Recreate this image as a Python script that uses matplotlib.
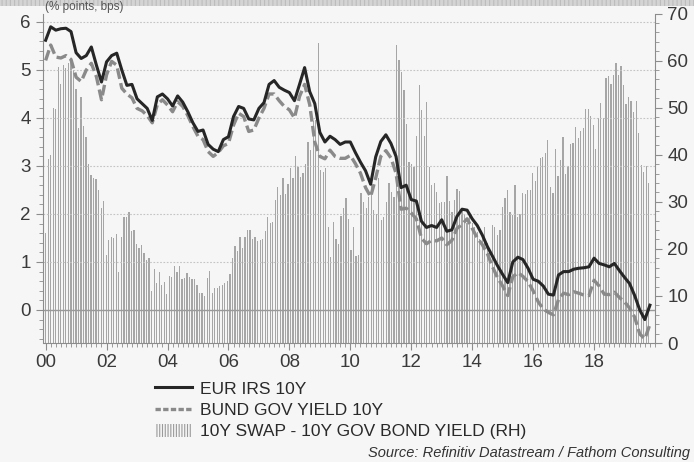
import numpy as np
import matplotlib
matplotlib.use("Agg")
import matplotlib.pyplot as plt
from matplotlib.lines import Line2D
from matplotlib.patches import Patch, Rectangle
from matplotlib.ticker import MultipleLocator, FixedLocator

plt.rcParams['font.family'] = ['Liberation Sans', 'DejaVu Sans']
plt.rcParams['hatch.linewidth'] = 0.8

# ---------------- data ----------------
# EUR IRS 10Y, bi-monthly from Jan 2000 (% points)
irs_10y = [5.62, 5.9, 5.83, 5.86, 5.87, 5.8,
           5.36, 5.24, 5.3, 5.48, 5.1, 4.75,
           5.17, 5.3, 5.35, 5.0, 4.68, 4.7,
           4.4, 4.3, 4.2, 3.95, 4.44, 4.5,
           4.4, 4.25, 4.46, 4.33, 4.13, 3.9,
           3.72, 3.75, 3.45, 3.35, 3.3, 3.55,
           3.61, 4.03, 4.24, 4.2, 3.98, 3.96,
           4.2, 4.32, 4.7, 4.78, 4.64, 4.58,
           4.53, 4.36, 4.7, 5.05, 4.55, 4.3,
           3.7, 3.5, 3.62, 3.55, 3.45, 3.5,
           3.5, 3.28, 3.08, 2.9, 2.62, 3.19,
           3.51, 3.65, 3.47, 3.2, 2.55, 2.6,
           2.3, 2.27, 1.85, 1.72, 1.76, 1.72,
           1.88, 1.64, 1.67, 1.95, 2.1, 2.08,
           1.9, 1.76, 1.56, 1.32, 1.12, 0.92,
           0.74, 0.57, 1.0, 1.1, 1.05, 0.87,
           0.64, 0.6, 0.5, 0.33, 0.31, 0.73,
           0.8, 0.8, 0.85, 0.87, 0.88, 0.9,
           1.08, 0.97, 0.94, 0.9, 0.97, 0.82,
           0.68, 0.55, 0.3, 0.0, -0.2, 0.1]

# BUND GOV YIELD 10Y, bi-monthly from Jan 2000 (% points)
bund_10y = [5.2, 5.52, 5.27, 5.25, 5.3, 5.22,
            4.85, 4.76, 5.0, 5.14, 4.86, 4.38,
            4.9, 5.18, 5.1, 4.62, 4.5, 4.42,
            4.2, 4.15, 4.05, 3.9, 4.28, 4.38,
            4.27, 4.13, 4.34, 4.24, 4.05, 3.82,
            3.62, 3.55, 3.3, 3.2, 3.28, 3.42,
            3.47, 3.85, 4.1, 4.03, 3.72, 3.75,
            4.0, 4.2, 4.5, 4.5, 4.36, 4.24,
            4.17, 4.0, 4.45, 4.7, 4.28, 3.5,
            3.2, 3.15, 3.33, 3.2, 3.16, 3.16,
            3.22, 3.05, 2.85, 2.55, 2.36, 2.75,
            3.2, 3.32, 3.17, 2.85, 2.1, 2.12,
            2.02, 1.9, 1.5, 1.38, 1.45, 1.44,
            1.5, 1.36, 1.45, 1.7, 1.78, 1.9,
            1.7, 1.5, 1.36, 1.17, 0.9, 0.67,
            0.5, 0.3, 0.69, 0.78, 0.7, 0.59,
            0.4, 0.17, 0.02, -0.05, -0.1, 0.22,
            0.35, 0.32, 0.38, 0.35, 0.31, 0.3,
            0.62, 0.5, 0.33, 0.32, 0.37, 0.26,
            0.17, 0.04, -0.15, -0.5, -0.6, -0.3]

# 10Y swap - 10Y gov bond yield, monthly from Jan 2000 (bps, RH)
swap_spread = [23.4, 39, 40, 50, 49.7, 58.7, 55, 59, 58.4, 59.4, 60.2, 58,
               53.9, 45.6, 52.2, 46, 43.8, 38, 35.7, 35, 34.8, 32.5, 28.7, 30.1,
               18.7, 21.9, 22.6, 22.3, 23.1, 15.1, 22.6, 26.8, 26.7, 27.8, 23.8, 24,
               21, 20.1, 20.8, 19.1, 17.6, 18, 11, 15.7, 12.7, 15.1, 12.3,
               13.0, 10.5, 14.3, 14.1, 16.3, 15.0, 16.3, 13.5, 13.9, 14.8, 14.1, 13.6,
               13.7, 12.3, 10.7, 10.7, 10.0, 13.9, 15.3, 10.7, 11.6, 11.7, 12.2, 12.3,
               12.7, 13.2, 14.6, 18.0, 20.7, 19.6, 22.6, 20.2, 22.6, 24.0, 24.0, 22.0,
               22.6, 21.7, 21.9, 22.0, 23.8, 26.8, 25.4, 25.8, 30.4, 33.2, 31.4, 35.0,
               31.6, 33.8, 37.1, 35.0, 39.7, 37.4, 35.3, 36.2, 38.1, 42.7, 41.0, 47.1,
               47.3, 63.8, 36.7, 36.4, 37.1, 24.7, 18.3, 25.8, 22.0, 21.0, 27.0, 28.7,
               30.9, 26.3, 19.7, 24.6, 18.5, 18.7, 31.9, 30.0, 28.6, 31.1, 34.6, 28.2,
               27.5, 35.0, 26.1, 26.8, 30.0, 34.0, 32.1, 31.1, 63.4, 60.2, 57.6,
               53.8, 46.5, 38.5, 38.0, 37.4, 43.9, 54.8, 49.6, 43.9, 51.2, 37.4, 33.5,
               33.9, 32.1, 29.7, 30.0, 30.0, 35.5, 30.1, 27.9, 30.4, 32.8, 32.3, 28.4,
               27.5, 25.4, 27.0, 25.4, 24.7, 23.6, 22.0, 22.9, 24.7, 21.2, 19.2, 25.1,
               24.7, 22.9, 24.0, 28.8, 30.7, 32.5, 27.9, 27.2, 33.5, 26.8, 27.4, 31.9,
               31.6, 32.6, 32.5, 36.2, 34.4, 37.4, 39.3, 39.6, 40.3, 43.1, 33.1, 31.9,
               41.3, 35.5, 38.9, 43.8, 35.8, 37.7, 42.2, 42.4, 45.9, 43.5, 45.1, 45.6,
               49.8, 49.8, 48.2, 46.3, 41.2, 47.8, 50.9, 47.8, 56.2, 56.8, 55.1, 57.0,
               59.5, 57.0, 58.9, 54.8, 50.7, 52.2, 51.4, 49.0, 51.4, 44.6, 37.9, 36.4,
               37.6, 33.9]

year_ticks = [2000, 2002, 2004, 2006, 2008, 2010, 2012, 2014, 2016, 2018]
year_labels = ['00', '02', '04', '06', '08', '10', '12', '14', '16', '18']
labels = ['EUR IRS 10Y', 'BUND GOV YIELD 10Y', '10Y SWAP - 10Y GOV BOND YIELD (RH)']

line_dates = 2000 + np.arange(len(irs_10y)) * 2 / 12
bar_dates = 2000 + np.arange(len(swap_spread)) / 12 * (19.8 / 19.92)

# ---------------- figure ----------------
W, H = 694, 462
bg = '#f6f6f6'
fig = plt.figure(figsize=(W / 100, H / 100), dpi=100, facecolor=bg)

# top band with subtitle
fig.patches.append(Rectangle((0, 1 - 6 / H), 1, 6 / H, transform=fig.transFigure,
                             facecolor='#d4d4d4', edgecolor='#bdbdbd', hatch='||||',
                             linewidth=0, zorder=0))
fig.text(45 / W, 1 - 10 / H, '(% points, bps)', fontsize=8.5, color='#555555',
         ha='left', va='baseline', zorder=2)

L, R, T, B = 43.5, 655, 13.5, 343
ax2 = fig.add_axes([L / W, 1 - B / H, (R - L) / W, (B - T) / H])
ax = ax2.twinx()
ax2.set_facecolor(bg)

# bars on right axis
ax2.bar(bar_dates, swap_spread, width=0.042, color='#a6a6a6', linewidth=0, zorder=2)
ax2.set_ylim(0, 70)
ax2.yaxis.tick_right()
ax2.yaxis.set_label_position('right')

# lines on left axis
ax.yaxis.tick_left()
ax.set_zorder(ax2.get_zorder() + 1)
ax.patch.set_visible(False)
ax.set_ylim(-0.6875, 6.177)
for v in range(1, 7):
    ax.axhline(v, color='#c4c4c4', lw=0.8, ls=(0, (1.5, 1.5)), zorder=1)
ax.axhline(0, color='#9a9a9a', lw=1.0, zorder=2)
ax.plot(line_dates, bund_10y, color='#8a8a8a', lw=2.4, dashes=(3.2, 1.3), zorder=3)
ax.plot(line_dates, irs_10y, color='#262626', lw=2.2, zorder=4)

ax.set_xlim(1999.93, 2020.0)
ax2.set_xlim(1999.93, 2020.0)

# ticks
ax.yaxis.set_major_locator(MultipleLocator(1))
ax.yaxis.set_minor_locator(MultipleLocator(0.2))
ax2.yaxis.set_major_locator(MultipleLocator(10))
ax2.yaxis.set_minor_locator(MultipleLocator(2))
ax2.xaxis.set_major_locator(FixedLocator(year_ticks))
ax2.set_xticklabels(year_labels)
ax2.xaxis.set_minor_locator(FixedLocator(list(2000 + np.arange(0, 121) / 6)))
ax.tick_params(axis='x', which='both', bottom=False, labelbottom=False, top=False)

for a in (ax, ax2):
    for s in a.spines.values():
        s.set_visible(False)
ax.spines['left'].set_visible(True)
ax.spines['left'].set_color('#8c8c8c')
ax2.spines['right'].set_visible(True)
ax2.spines['right'].set_color('#8c8c8c')
ax2.spines['bottom'].set_visible(True)
ax2.spines['bottom'].set_color('#8c8c8c')

ax.tick_params(axis='y', which='major', length=5, color='#8c8c8c', labelsize=13.5,
               labelcolor='#3a3a3a', pad=4)
ax.tick_params(axis='y', which='minor', length=3, color='#8c8c8c')
ax2.tick_params(axis='y', which='major', length=5, color='#8c8c8c', labelsize=13.5,
                labelcolor='#3a3a3a', pad=4)
ax2.tick_params(axis='y', which='minor', length=3, color='#8c8c8c')
ax2.tick_params(axis='x', which='major', length=5, color='#8c8c8c', labelsize=13.5,
                labelcolor='#3a3a3a', pad=3)
ax2.tick_params(axis='x', which='minor', length=3, color='#8c8c8c')

# legend
handles = [Line2D([], [], color='#262626', lw=2.2),
           Line2D([], [], color='#8a8a8a', lw=2.4, dashes=(1.6, 0.7)),
           Patch(facecolor='none', edgecolor='#9a9a9a', hatch='||||||', linewidth=0)]
fig.legend(handles, labels, loc='upper left', bbox_to_anchor=(155 / W, 1 - 381 / H),
           frameon=False, fontsize=12.5, handlelength=2.15, handleheight=0.8,
           handletextpad=0.45, labelspacing=0.33, borderpad=0, borderaxespad=0,
           labelcolor='#2a2a2a')

fig.text(690 / W, 1 - 453 / H, 'Source: Refinitiv Datastream / Fathom Consulting',
         ha='right', va='center', fontsize=10.5, style='italic', color='#333333')

fig.savefig('out.png', dpi=100, facecolor=bg)
